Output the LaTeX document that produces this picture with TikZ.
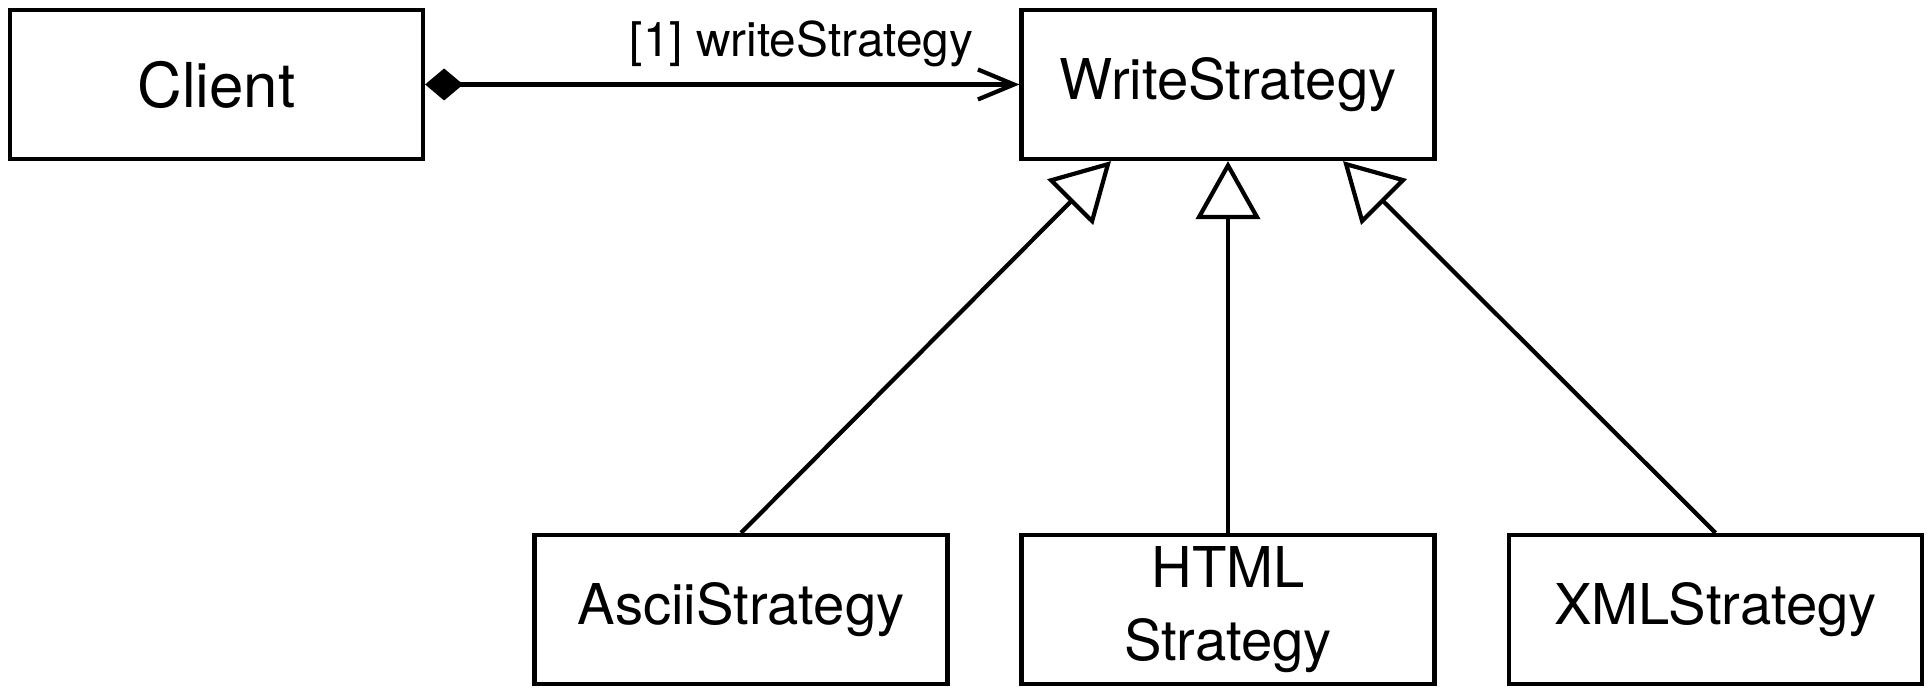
\documentclass[tikz,border=0pt]{standalone}
\usepackage{fontspec}
\setmainfont{TeX Gyre Heros}
\usetikzlibrary{arrows.meta}

\tikzset{
  cls/.style={draw, line width=1.2pt, minimum width=4.13cm, minimum height=1.49cm,
    inner sep=0pt, align=center, font=\fontsize{16}{20.8}\selectfont},
  inherit/.style={line width=1.2pt, -{Triangle[open, length=5.8mm, width=6.4mm]}},
  owns/.style={line width=1.2pt,
    {Diamond[length=3.8mm, width=3.2mm]}-{Straight Barb[length=3.6mm, width=3mm]}}
}

\begin{document}
\begin{tikzpicture}
  \useasboundingbox (0,0) rectangle (19.29,6.91);
  \node[cls, font=\fontsize{17.6}{21}\selectfont] (client) at (2.165,6.065) {Client};
  \node[cls] (ws) at (12.28,6.065) {WriteStrategy};
  \foreach \n/\x/\t in {ascii/7.41/AsciiStrategy, html/12.28/{HTML\\Strategy}, xml/17.155/XMLStrategy}
    \node[cls] (\n) at (\x,0.815) {\t};
  % association
  \draw[owns] (client) -- (ws)
    node[pos=1, anchor=south east, xshift=-4.4mm, yshift=1.5mm, inner sep=0pt,
      font=\fontsize{13.6}{16}\selectfont] (role) {[1] writeStrategy};
  % generalisation
  \draw[inherit] (ascii.north) -- ([xshift=-11.7mm]ws.south);
  \draw[inherit] (html) -- (ws);
  \draw[inherit] (xml.north) -- ([xshift=11.5mm]ws.south);
\end{tikzpicture}
\end{document}
